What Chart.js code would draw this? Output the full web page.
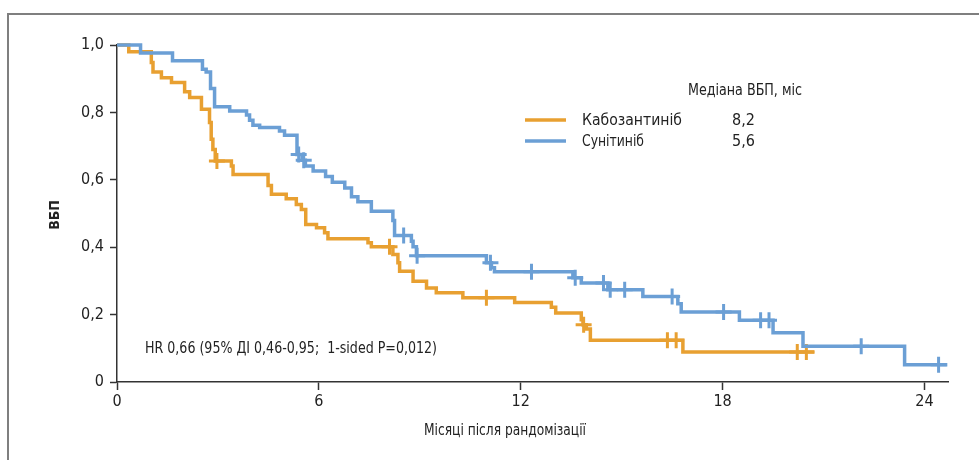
<!DOCTYPE html>
<html>
<head>
<meta charset="utf-8">
<script src="https://cdn.jsdelivr.net/npm/chart.js@4/dist/chart.umd.min.js"></script>
<style>
  html, body { margin: 0; padding: 0; background: #ffffff; }
  #wrap { width: 979px; height: 460px; position: relative; }
</style>
</head>
<body>
<div id="wrap"><canvas id="c"></canvas></div>
<script>
// ---- Data ----
const xTicks = [0, 6, 12, 18, 24];
const yTicks = [0, 0.2, 0.4, 0.6, 0.8, 1.0];

// Cabozantinib (orange) Kaplan–Meier steps: time (months) -> survival after event
const caboTimes = [0, 0.35, 1.02, 1.07, 1.32, 1.62, 2.01, 2.16, 2.51, 2.75, 2.8, 2.85, 2.92, 3.4, 3.45, 4.49, 4.59, 5.03, 5.33, 5.48, 5.61, 5.93, 6.17, 6.27, 7.46, 7.56, 8.2, 8.35, 8.4, 8.8, 9.2, 9.49, 10.28, 11.82, 12.91, 13.04, 13.8, 13.85, 13.95, 14.07, 16.82, 20.73];
const caboSurv  = [1.0, 0.98, 0.948, 0.92, 0.903, 0.889, 0.861, 0.844, 0.809, 0.77, 0.72, 0.69, 0.656, 0.641, 0.616, 0.583, 0.557, 0.544, 0.527, 0.512, 0.467, 0.458, 0.443, 0.425, 0.413, 0.401, 0.378, 0.354, 0.329, 0.299, 0.279, 0.265, 0.25, 0.236, 0.222, 0.205, 0.185, 0.17, 0.157, 0.124, 0.089, 0.089];
const caboCensor = [2.97, 8.1, 10.98, 13.87, 16.36, 16.62, 20.22, 20.49];

// Sunitinib (blue)
const sunTimes = [0, 0.7, 1.65, 2.54, 2.65, 2.78, 2.9, 3.35, 3.85, 3.94, 4.04, 4.24, 4.83, 4.98, 5.35, 5.5, 5.6, 5.83, 6.2, 6.4, 6.77, 6.97, 7.16, 7.56, 8.2, 8.25, 8.75, 8.8, 8.9, 10.98, 11.13, 11.22, 13.55, 13.8, 14.59, 15.63, 16.67, 16.77, 18.5, 19.5, 20.39, 23.41, 24.68];
const sunSurv  = [1.0, 0.976, 0.953, 0.928, 0.92, 0.871, 0.817, 0.804, 0.792, 0.777, 0.762, 0.755, 0.745, 0.732, 0.675, 0.658, 0.641, 0.626, 0.61, 0.593, 0.576, 0.55, 0.535, 0.507, 0.479, 0.435, 0.418, 0.401, 0.375, 0.354, 0.339, 0.327, 0.309, 0.294, 0.274, 0.254, 0.232, 0.208, 0.183, 0.146, 0.106, 0.051, 0.051];
const sunCensor = [5.4, 5.55, 8.52, 8.92, 11.1, 12.32, 13.62, 14.46, 14.66, 15.09, 16.5, 18.03, 19.13, 19.38, 22.12, 24.42];

const seriesNames = ['Кабозантиніб', 'Сунітиніб'];
const medians = ['8,2', '5,6'];
const legendTitle = 'Медіана ВБП, міс';
const hrText = 'HR 0,66 (95% ДІ 0,46-0,95;  1-sided P=0,012)';
const xTitle = 'Місяці після рандомізації';
const yTitle = 'ВБП';

// ---- Styling ----
const ORANGE = '#E8A031';
const BLUE = '#6B9FD5';
const TEXT = '#222222';
const AXIS = '#333333';
const FONT = "'Liberation Sans Narrow', 'DejaVu Sans Condensed', 'Liberation Sans', sans-serif";

function toPts(ts, ss) { return ts.map((t, i) => ({ x: t, y: ss[i] })); }
function survAt(ts, ss, t) {
  let v = ss[0];
  for (let i = 0; i < ts.length; i++) { if (ts[i] <= t) v = ss[i]; }
  return v;
}
function censorPts(cs, ts, ss) { return cs.map(t => ({ x: t, y: survAt(ts, ss, t) })); }

// draw text squeezed horizontally to a target width (condensed look like the reference)
function fitText(ctx, text, x, y, width, align) {
  const w = ctx.measureText(text).width;
  const k = Math.min(1, width / w);
  ctx.save();
  let left = x;
  if (align === 'center') left = x - (w * k) / 2;
  ctx.translate(left, y);
  ctx.scale(k, 1);
  ctx.textAlign = 'left';
  ctx.fillText(text, 0, 0);
  ctx.restore();
}

const decor = {
  id: 'decor',
  beforeDraw(chart) {
    const ctx = chart.ctx;
    ctx.save();
    ctx.strokeStyle = '#7f7f7f';
    ctx.lineWidth = 2;
    ctx.beginPath();
    ctx.moveTo(8, 460);
    ctx.lineTo(8, 14);
    ctx.lineTo(979, 14);
    ctx.stroke();
    ctx.restore();
  },
  afterDraw(chart) {
    const ctx = chart.ctx;
    ctx.save();
    ctx.fillStyle = TEXT;
    ctx.textBaseline = 'middle';
    ctx.font = '16px ' + FONT;
    // Legend title
    fitText(ctx, legendTitle, 688, 91, 114, 'left');
    // Legend entries
    const rows = [{ y: 120, c: ORANGE, w: 100 }, { y: 141, c: BLUE, w: 62 }];
    rows.forEach((r, i) => {
      ctx.strokeStyle = r.c;
      ctx.lineWidth = 3.5;
      ctx.beginPath();
      ctx.moveTo(525, r.y);
      ctx.lineTo(566, r.y);
      ctx.stroke();
      ctx.fillStyle = TEXT;
      fitText(ctx, seriesNames[i], 582, r.y + 1, r.w, 'left');
      fitText(ctx, medians[i], 732, r.y + 1, 25, 'left');
    });
    // HR text
    fitText(ctx, hrText, 145, 349, 292, 'left');
    // X title
    fitText(ctx, xTitle, 505, 431, 162, 'center');
    // Y title
    ctx.save();
    ctx.translate(55, 215);
    ctx.rotate(-Math.PI / 2);
    ctx.font = 'bold 14px ' + FONT;
    ctx.textAlign = 'center';
    ctx.fillText(yTitle, 0, 0);
    ctx.restore();
    ctx.restore();
  }
};

new Chart(document.getElementById('c'), {
  type: 'scatter',
  data: {
    datasets: [
      { label: seriesNames[1], data: toPts(sunTimes, sunSurv), showLine: true, stepped: 'before',
        borderColor: BLUE, borderWidth: 3.5, pointRadius: 0, fill: false, clip: false, order: 1 },
      { label: seriesNames[1] + ' censor', data: censorPts(sunCensor, sunTimes, sunSurv), showLine: false,
        pointStyle: 'cross', pointRadius: 8, pointBorderWidth: 3, borderColor: BLUE, pointBorderColor: BLUE, clip: false, order: 0 },
      { label: seriesNames[0], data: toPts(caboTimes, caboSurv), showLine: true, stepped: 'before',
        borderColor: ORANGE, borderWidth: 3.5, pointRadius: 0, fill: false, clip: false, order: 3 },
      { label: seriesNames[0] + ' censor', data: censorPts(caboCensor, caboTimes, caboSurv), showLine: false,
        pointStyle: 'cross', pointRadius: 8, pointBorderWidth: 3, borderColor: ORANGE, pointBorderColor: ORANGE, clip: false, order: 2 }
    ]
  },
  options: {
    responsive: true,
    maintainAspectRatio: false,
    animation: false,
    events: [],
    layout: { padding: { left: 0, right: 31, top: 45, bottom: 0 } },
    plugins: { legend: { display: false }, tooltip: { enabled: false } },
    scales: {
      x: {
        type: 'linear', min: 0, max: 24.7,
        afterBuildTicks: s => { s.ticks = xTicks.map(v => ({ value: v })); },
        afterFit: s => { s.height = 78; },
        grid: { drawOnChartArea: false, drawTicks: true, tickLength: 8, tickColor: AXIS, tickWidth: 1.5 },
        border: { display: true, color: AXIS, width: 1.5 },
        ticks: { color: TEXT, font: { family: FONT, size: 16 }, padding: 2, maxRotation: 0,
          callback: v => String(v) }
      },
      y: {
        type: 'linear', min: 0, max: 1,
        afterBuildTicks: s => { s.ticks = yTicks.map(v => ({ value: v })); },
        afterFit: s => { s.width = 117; },
        grid: { drawOnChartArea: false, drawTicks: true, tickLength: 7, tickColor: AXIS, tickWidth: 1.5 },
        border: { display: true, color: AXIS, width: 1.5 },
        ticks: { color: TEXT, font: { family: FONT, size: 16 }, padding: 6,
          callback: v => (v === 0 ? '0' : v.toFixed(1).replace('.', ',')) }
      }
    }
  },
  plugins: [decor]
});
</script>
</body>
</html>
